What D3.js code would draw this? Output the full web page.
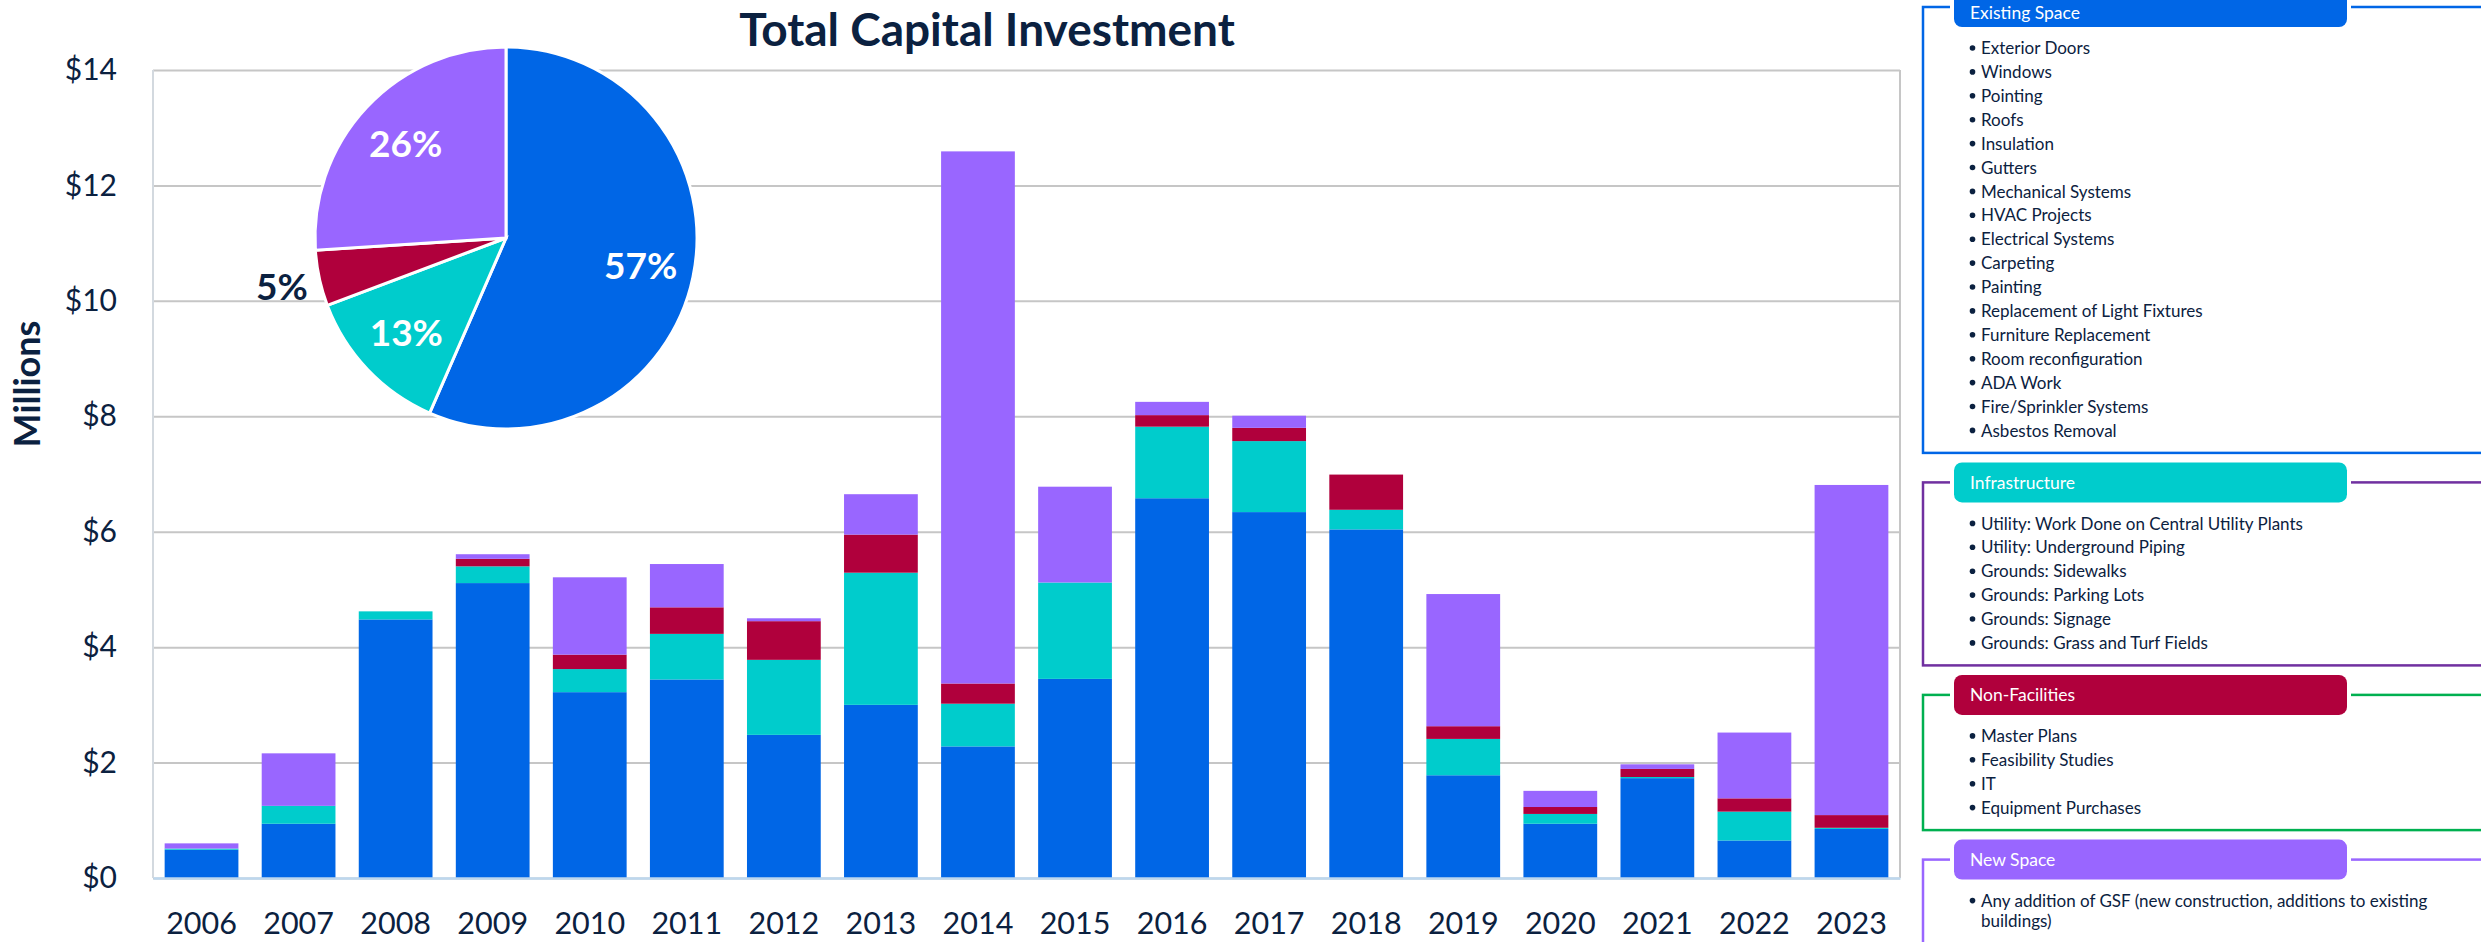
<!DOCTYPE html>
<html>
<head>
<meta charset="utf-8">
<script src="https://cdn.jsdelivr.net/npm/d3@7/dist/d3.min.js"></script>
<style>
body{margin:0;background:#fff;overflow:hidden;}
text{font-family:Lato,"Open Sans",sans-serif;}
</style>
</head>
<body>
<div id="root"></div>
<script>
// chart values ($ millions)
const years = ['2006','2007','2008','2009','2010','2011','2012','2013','2014','2015','2016','2017','2018','2019','2020','2021','2022','2023'];
const existingSpace  = [0.49,0.94,4.48,5.11,3.22,3.44,2.48,3.00,2.28,3.45,6.58,6.34,6.04,1.78,0.94,1.73,0.65,0.85];
const infrastructure = [0.02,0.31,0.14,0.29,0.40,0.79,1.30,2.29,0.74,1.67,1.24,1.23,0.34,0.63,0.17,0.02,0.50,0.02];
const nonFacilities  = [0,0,0,0.13,0.25,0.46,0.67,0.66,0.35,0,0.20,0.23,0.61,0.22,0.12,0.14,0.23,0.22];
const newSpace       = [0.09,0.91,0,0.08,1.34,0.75,0.05,0.70,9.22,1.66,0.23,0.21,0,2.29,0.28,0.08,1.14,5.72];
const yTicks = [0,2,4,6,8,10,12,14];

// legend texts
const categories = ['Existing Space','Infrastructure','Non-Facilities','New Space'];
const existingItems = ['Exterior Doors','Windows','Pointing','Roofs','Insulation','Gutters','Mechanical Systems','HVAC Projects','Electrical Systems','Carpeting','Painting','Replacement of Light Fixtures','Furniture Replacement','Room reconfiguration','ADA Work','Fire/Sprinkler Systems','Asbestos Removal'];
const infraItems = ['Utility: Work Done on Central Utility Plants','Utility: Underground Piping','Grounds: Sidewalks','Grounds: Parking Lots','Grounds: Signage','Grounds: Grass and Turf Fields'];
const nonFacItems = ['Master Plans','Feasibility Studies','IT','Equipment Purchases'];
const newSpaceItems = ['Any addition of GSF (new construction, additions to existing buildings)'];

const width = 2481, height = 942;
const margin = {top:70,right:581,bottom:64,left:153};
const ink = '#0b2140';

const keys = ['existing','infra','nonfac','newspace'];
const colorScale = d3.scaleOrdinal()
	.domain(keys)
	.range(['#0066e6','#00cccc','#b0003c','#9966ff']);
const frameColors = ['#0066e6','#7030a0','#00b050','#9966ff'];

const table = years.map((y,i) => ({
	year:y,
	existing:existingSpace[i],
	infra:infrastructure[i],
	nonfac:nonFacilities[i],
	newspace:newSpace[i]
}));

const svg = d3.select('#root')
	.append('svg')
	.attr('width',width)
	.attr('height',height);

// scales
const xScale = d3.scaleBand()
	.domain(years)
	.range([margin.left,width - margin.right])
	.paddingInner(0.24)
	.paddingOuter(0.12);

const yScale = d3.scaleLinear()
	.domain([0,14])
	.range([height - margin.bottom,margin.top]);

// y axis with grid lines
const yAxis = d3.axisLeft(yScale)
	.tickValues(yTicks)
	.tickSize(-(width - margin.left - margin.right))
	.tickPadding(36)
	.tickFormat(d => '$' + d);

const yG = svg.append('g')
	.attr('transform','translate(' + margin.left + ',0)')
	.call(yAxis);
yG.select('.domain').remove();
yG.selectAll('.tick line').attr('stroke','#c6c6c6').attr('stroke-width',2);
yG.selectAll('.tick text')
	.attr('fill',ink)
	.style('font-size','30px')
	.style('font-family','Lato');

// plot borders
svg.append('line')
	.attr('x1',margin.left).attr('x2',margin.left)
	.attr('y1',margin.top).attr('y2',height - margin.bottom)
	.attr('stroke','#d3d9df').attr('stroke-width',2);
svg.append('line')
	.attr('x1',width - margin.right).attr('x2',width - margin.right)
	.attr('y1',margin.top).attr('y2',height - margin.bottom)
	.attr('stroke','#c6c6c6').attr('stroke-width',2);

// stacked bars
const series = d3.stack().keys(keys)(table);
svg.append('g')
	.selectAll('g')
	.data(series)
	.enter()
	.append('g')
	.attr('fill',d => colorScale(d.key))
	.selectAll('rect')
	.data(d => d)
	.enter()
	.append('rect')
	.attr('x',d => xScale(d.data.year))
	.attr('width',xScale.bandwidth())
	.attr('y',d => yScale(d[1]))
	.attr('height',d => yScale(d[0]) - yScale(d[1]));

// x axis
const xG = svg.append('g')
	.attr('transform','translate(0,' + (height - margin.bottom) + ')')
	.call(d3.axisBottom(xScale).tickSize(0).tickPadding(34));
xG.select('.domain')
	.attr('stroke','#bdd7ee')
	.attr('stroke-width',2.5);
xG.selectAll('.tick text')
	.attr('fill',ink)
	.style('font-size','30.5px')
	.style('font-family','Lato');

// title and axis label
svg.append('text')
	.attr('x',987)
	.attr('y',46)
	.attr('text-anchor','middle')
	.attr('fill',ink)
	.style('font-size','46px')
	.style('font-weight','bold')
	.text('Total Capital Investment');

svg.append('text')
	.attr('transform','translate(40,384) rotate(-90)')
	.attr('text-anchor','middle')
	.attr('fill',ink)
	.style('font-size','36px')
	.style('font-weight','bold')
	.text('Millions');

// pie of totals
const totals = keys.map(k => ({key:k,value:d3.sum(table,d => d[k])}));
const grand = d3.sum(totals,d => d.value);
const pieR = 191;
const pie = d3.pie().sort(null).value(d => d.value);
const arc = d3.arc().innerRadius(0).outerRadius(pieR);
const labelArc = d3.arc().innerRadius(pieR * 0.72).outerRadius(pieR * 0.72);
const outArc = d3.arc().innerRadius(pieR * 1.2).outerRadius(pieR * 1.2);
const fmtPct = d3.format('.0%');

const pieG = svg.append('g').attr('transform','translate(506,238)');
const slices = pie(totals);
pieG.selectAll('path')
	.data(slices)
	.enter()
	.append('path')
	.attr('d',arc)
	.attr('fill',d => colorScale(d.data.key))
	.attr('stroke','#fff')
	.attr('stroke-width',3);

pieG.selectAll('text')
	.data(slices)
	.enter()
	.append('text')
	.attr('transform',d => {
		const small = d.data.value / grand < 0.08;
		return 'translate(' + (small ? outArc : labelArc).centroid(d) + ')';
	})
	.attr('dy','0.36em')
	.attr('text-anchor','middle')
	.attr('fill',d => d.data.value / grand < 0.08 ? ink : '#fff')
	.style('font-size','37px')
	.style('font-weight','bold')
	.text(d => fmtPct(d.data.value / grand));

// legend boxes on the right
const itemLists = [existingItems,infraItems,nonFacItems,newSpaceItems];
const frameX = 1923, pillX = 1954, pillW = 393, pillH = 40, rowH = 23.9;
let pillTop = -13;

categories.forEach((name,gi) => {
	const g = svg.append('g');
	const mid = pillTop + pillH / 2;
	const items = g.append('g');
	let cy = mid + 41;
	itemLists[gi].forEach(item => {
		// simple word wrap
		const words = item.split(' ');
		let lines = [], line = '';
		const probe = items.append('text').style('font-size','17px');
		words.forEach(w => {
			const test = line ? line + ' ' + w : w;
			probe.text(test);
			if (probe.node().getComputedTextLength() > 480 && line) {
				lines.push(line);
				line = w;
			} else {
				line = test;
			}
		});
		lines.push(line);
		probe.remove();

		items.append('circle')
			.attr('cx',1972.5).attr('cy',cy).attr('r',2.8)
			.attr('fill',ink);
		lines.forEach((l,li) => {
			items.append('text')
				.attr('x',1981)
				.attr('y',cy + li * 20)
				.attr('dy','0.36em')
				.attr('fill',ink)
				.style('font-size','17px')
				.text(l);
		});
		cy += rowH + (lines.length - 1) * 20;
	});
	const bottom = gi === categories.length - 1 ? height + 20 : cy - rowH + 22.5;

	g.insert('rect',':first-child')
		.attr('x',frameX).attr('y',mid)
		.attr('width',700).attr('height',bottom - mid)
		.attr('fill','none')
		.attr('stroke',frameColors[gi])
		.attr('stroke-width',2.5);
	g.append('rect')
		.attr('x',pillX - 4).attr('y',pillTop)
		.attr('width',pillW + 8).attr('height',pillH)
		.attr('fill','#fff');
	g.append('rect')
		.attr('x',pillX).attr('y',pillTop)
		.attr('width',pillW).attr('height',pillH)
		.attr('rx',8)
		.attr('fill',colorScale(keys[gi]));
	g.append('text')
		.attr('x',1970)
		.attr('y',Math.max(mid,12.5)) // keep the top header inside the page
		.attr('dy','0.36em')
		.attr('fill','#fff')
		.style('font-size','17.5px')
		.text(name);

	pillTop = bottom + 9.5;
});
</script>
</body>
</html>
